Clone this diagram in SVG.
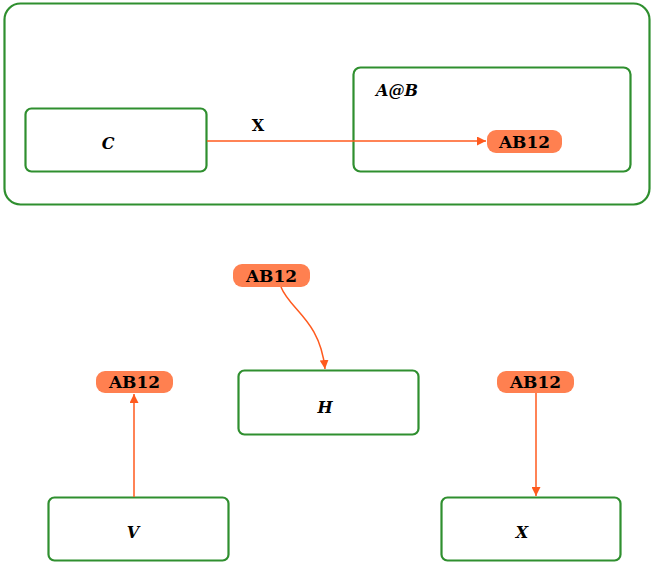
<svg xmlns="http://www.w3.org/2000/svg" width="651" height="562" viewBox="0 0 651 562">
<defs>
<style>
.box{fill:#fff;stroke:#2f8f2f;stroke-width:2.2}
.pill{fill:#ff8050;stroke:none}
.lbl{font-family:"DejaVu Serif","Liberation Serif",serif;font-weight:bold;font-style:italic;font-size:16px;fill:#000}
.tag{font-family:"DejaVu Serif","Liberation Serif",serif;font-weight:bold;font-size:17px;fill:#000}
.edge{fill:none;stroke:#ff5a1e;stroke-width:1.5}
</style>
<marker id="ah" viewBox="0 0 10 10" refX="10" refY="5" markerWidth="9" markerHeight="9" markerUnits="userSpaceOnUse" orient="auto">
<path d="M0,0 L10,5 L0,10 z" fill="#ff5a1e"/>
</marker>
</defs>
<rect width="651" height="562" fill="#fff"/>
<g id="outer"><rect class="box" x="4.5" y="3.5" width="645" height="201" rx="16"/></g>
<g id="AB"><rect class="box" x="353.5" y="67.5" width="277" height="104" rx="7"/>
<text class="lbl" x="376" y="96">A@B</text></g>
<g id="C"><rect class="box" x="25.5" y="108.5" width="181" height="63" rx="6"/>
<text class="lbl" x="108" y="149" text-anchor="middle">C</text></g>
<g id="H"><rect class="box" x="238.5" y="370.5" width="180" height="64" rx="6"/>
<text class="lbl" x="325" y="413" text-anchor="middle">H</text></g>
<g id="V"><rect class="box" x="48.5" y="497.5" width="180" height="63" rx="6"/>
<text class="lbl" x="133" y="538" text-anchor="middle">V</text></g>
<g id="X"><rect class="box" x="441.5" y="497.5" width="179" height="63" rx="6"/>
<text class="lbl" x="522" y="538" text-anchor="middle">X</text></g>
<g id="tag1"><rect class="pill" x="487" y="130" width="75" height="23" rx="9"/>
<text class="tag" x="524.5" y="148" text-anchor="middle">AB12</text></g>
<g id="tag2"><rect class="pill" x="233" y="264" width="77" height="23" rx="9"/>
<text class="tag" x="271.5" y="282" text-anchor="middle">AB12</text></g>
<g id="tag3"><rect class="pill" x="96" y="371" width="77" height="22" rx="9"/>
<text class="tag" x="134.5" y="388" text-anchor="middle">AB12</text></g>
<g id="tag4"><rect class="pill" x="497" y="371" width="77" height="22" rx="9"/>
<text class="tag" x="535.5" y="388" text-anchor="middle">AB12</text></g>
<g id="connectors">
<path class="edge" d="M207,141 L486,141" marker-end="url(#ah)"/>
<text class="tag" x="258" y="131" text-anchor="middle" style="font-size:16px">X</text>
<path class="edge" d="M281,287 C290,310 320,320 325,369" marker-end="url(#ah)"/>
<path class="edge" d="M134,497 L134,394" marker-end="url(#ah)"/>
<path class="edge" d="M536,393 L536,496" marker-end="url(#ah)"/>
</g>
</svg>
